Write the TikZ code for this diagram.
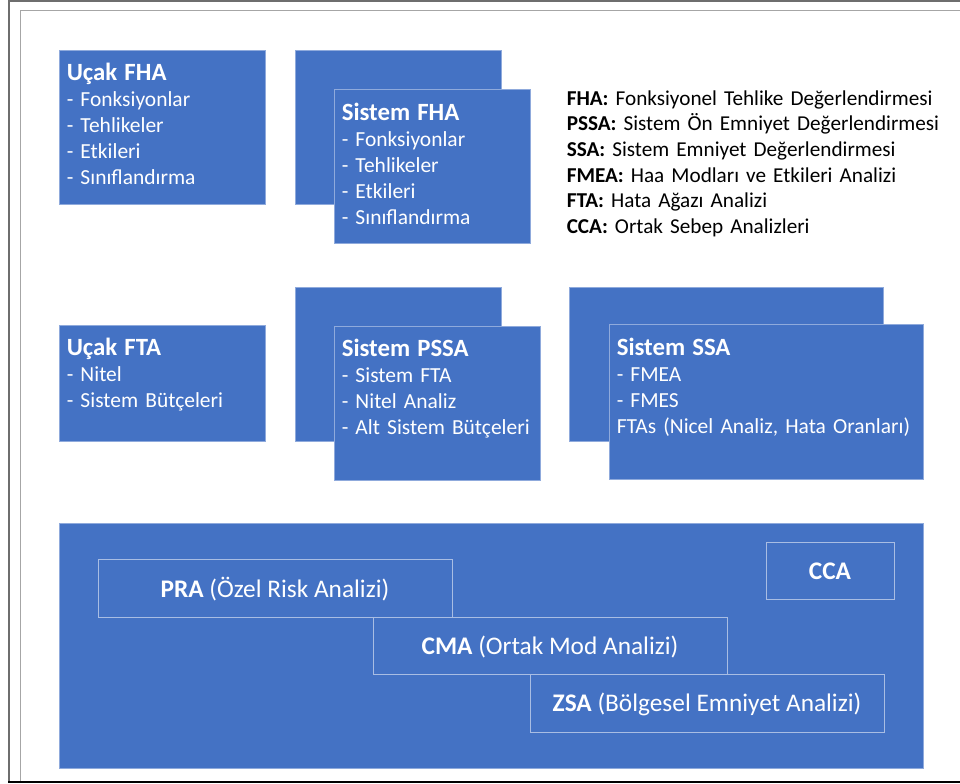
\documentclass[tikz,border=0pt]{standalone}
\usepackage{fontspec}
\setmainfont{Carlito}
\usetikzlibrary{fit}
\definecolor{boxblue}{HTML}{4472C4}
\definecolor{boxedge}{HTML}{8FAADC}
\definecolor{inneredge}{HTML}{A9BDE3}
\definecolor{frameouter}{HTML}{6E6E6E}
\definecolor{frameinner}{HTML}{A6A6A6}
\newcommand{\boxtitle}[1]{{\bfseries\fontsize{18.6}{19.5}\selectfont #1}}
\begin{document}
\begin{tikzpicture}[x=0.75pt,y=-0.75pt,
  panel/.style={draw=boxedge, line width=0.6pt, fill=boxblue, inner sep=0pt},
  subpanel/.style={draw=inneredge, line width=0.6pt, inner sep=0pt},
  boxtext/.style={anchor=base west, inner sep=0pt, text=white, align=left,
    text width=300pt, font=\fontsize{16.1}{19.5}\selectfont},
  legendtext/.style={anchor=base west, inner sep=0pt, text=black, align=left,
    text width=320pt, font=\fontsize{15.9}{19.3}\selectfont},
  subtext/.style={anchor=base, inner sep=0pt, text=white,
    font=\fontsize{19}{22}\selectfont},
]
\useasboundingbox (0,0) rectangle (960,783);

% page frames
\draw[frameouter, line width=1.5pt] (8.5,783) -- (8.5,1) -- (960,1);
\draw[frameinner, line width=1pt] (20.5,781) -- (20.5,10.5) -- (960,10.5);
\draw[black, line width=1.5pt] (8,781.5) -- (960,781.5);

% top row
\node[panel, fit={(59,50) (265,204)}] (ufha) {};
\node[panel, fit={(295,50) (501,204)}] (sfhaback) {};
\node[panel, fit={(334,89) (530,243)}] (sfha) {};

\node[boxtext] (ufhaT) at (66.5,80)
  {\boxtitle{Uçak FHA}\\- Fonksiyonlar\\- Tehlikeler\\- Etkileri\\- Sınıflandırma};
\node[boxtext] (sfhaT) at (341.5,120)
  {\boxtitle{Sistem FHA}\\- Fonksiyonlar\\- Tehlikeler\\- Etkileri\\- Sınıflandırma};

% abbreviations
\node[legendtext] (legend) at (566.5,105)
  {\textbf{FHA:} Fonksiyonel Tehlike Değerlendirmesi\\
   \textbf{PSSA:} Sistem Ön Emniyet Değerlendirmesi\\
   \textbf{SSA:} Sistem Emniyet Değerlendirmesi\\
   \textbf{FMEA:} Haa Modları ve Etkileri Analizi\\
   \textbf{FTA:} Hata Ağazı Analizi\\
   \textbf{CCA:} Ortak Sebep Analizleri};

% middle row
\node[panel, fit={(59,325) (265,441)}] (ufta) {};
\node[panel, fit={(295,287) (501,441)}] (pssaback) {};
\node[panel, fit={(334,326) (540,480)}] (pssa) {};
\node[panel, fit={(569,287) (883,441)}] (ssaback) {};
\node[panel, fit={(609,324) (923,479)}] (ssa) {};

\node[boxtext] (uftaT) at (66.5,355)
  {\boxtitle{Uçak FTA}\\- Nitel\\- Sistem Bütçeleri};
\node[boxtext] (pssaT) at (341.5,356.5)
  {\boxtitle{Sistem PSSA}\\- Sistem FTA\\- Nitel Analiz\\- Alt Sistem Bütçeleri};
\node[boxtext] (ssaT) at (616.5,355)
  {\boxtitle{Sistem SSA}\\- FMEA\\- FMES\\FTAs (Nicel Analiz, Hata Oranları)};

% bottom panel with common analyses
\node[panel, fit={(59,523) (923,768)}] (common) {};
\node[subpanel, fit={(98,559) (452,617)}] (pra) {};
\node[subpanel, fit={(373,617) (727,674)}] (cma) {};
\node[subpanel, fit={(530,674) (884,732)}] (zsa) {};
\node[subpanel, fit={(766,542) (894,599)}] (cca) {};

\node[subtext] (praT) at (275,597) {\textbf{PRA} (Özel Risk Analizi)};
\node[subtext] (cmaT) at (550,654) {\textbf{CMA} (Ortak Mod Analizi)};
\node[subtext] (zsaT) at (707,711) {\textbf{ZSA} (Bölgesel Emniyet Analizi)};
\node[subtext] (ccaT) at (830,579) {\textbf{CCA}};
\end{tikzpicture}
\end{document}
